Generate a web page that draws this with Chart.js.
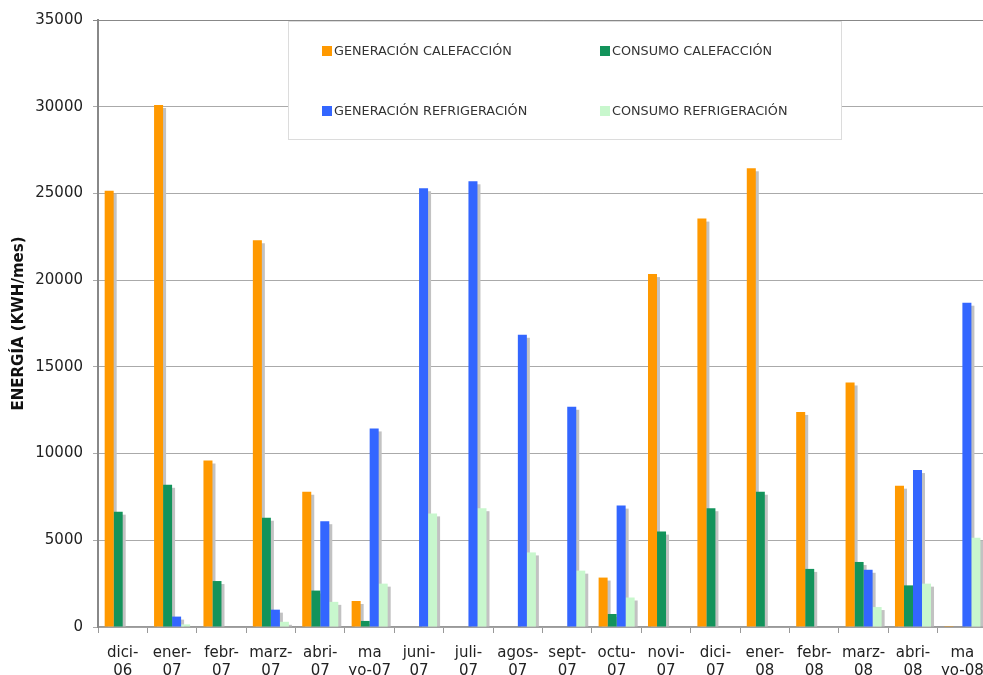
<!DOCTYPE html>
<html>
<head>
<meta charset="utf-8">
<script src="https://cdn.jsdelivr.net/npm/chart.js@4/dist/chart.umd.min.js"></script>
<style>
html,body{margin:0;padding:0;background:#fff;overflow:hidden;width:983px;height:675px;}
canvas{display:block;}
</style>
</head>
<body>
<canvas id="c" width="995" height="675"></canvas>
<script>
const categories = [['dici-','06'],['ener-','07'],['febr-','07'],['marz-','07'],['abri-','07'],['ma','yo-07'],['juni-','07'],['juli-','07'],['agos-','07'],['sept-','07'],['octu-','07'],['novi-','07'],['dici-','07'],['ener-','08'],['febr-','08'],['marz-','08'],['abri-','08'],['ma','yo-08']];
const seriesNames = ['GENERACIÓN CALEFACCIÓN','CONSUMO CALEFACCIÓN','GENERACIÓN REFRIGERACIÓN','CONSUMO REFRIGERACIÓN'];
const generacionCalefaccion = [25150,30100,9600,22300,7800,1500,0,0,0,0,2850,20350,23550,26450,12400,14100,8150,50];
const consumoCalefaccion    = [6650,8200,2650,6300,2100,350,0,0,0,0,750,5500,6850,7800,3350,3750,2400,0];
const generacionRefrigeracion = [0,600,0,1000,6100,11450,25300,25700,16850,12700,7000,0,0,0,0,3300,9050,18700];
const consumoRefrigeracion  = [0,150,0,300,1450,2500,6550,6850,4300,3250,1700,0,0,0,0,1150,2500,5150];
const yTicks = [0,5000,10000,15000,20000,25000,30000,35000];
const yTitle = 'ENERGÍA (KWH/mes)';

const colors = ['#FF9900','#13935B','#3366FF','#C8F7CD'];
const values = [generacionCalefaccion, consumoCalefaccion, generacionRefrigeracion, consumoRefrigeracion];

const shadowPlugin = {
  id: 'barShadows',
  beforeDatasetsDraw(chart) {
    const ctx = chart.ctx, area = chart.chartArea;
    ctx.save();
    ctx.beginPath();
    ctx.rect(area.left, area.top, area.right - area.left, area.bottom - area.top);
    ctx.clip();
    ctx.fillStyle = '#c2c2c2';
    chart.data.datasets.forEach((ds, i) => {
      const meta = chart.getDatasetMeta(i);
      meta.data.forEach(el => {
        const p = el.getProps(['x','y','base','width'], true);
        const top = p.y + 3;
        if (p.base - top > 0) {
          ctx.fillRect(p.x - p.width / 2 + 3, top, p.width, p.base - top);
        }
      });
    });
    ctx.restore();
  }
};

const legendPlugin = {
  id: 'boxLegend',
  afterDraw(chart) {
    const ctx = chart.ctx;
    const bx = 288, by = 21, bw = 554, bh = 119;
    ctx.save();
    ctx.fillStyle = '#ffffff';
    ctx.fillRect(bx, by, bw, bh);
    ctx.strokeStyle = '#dcdcdc';
    ctx.lineWidth = 1;
    ctx.strokeRect(bx + 0.5, by + 0.5, bw - 1, bh - 1);
    ctx.font = '12.8px "DejaVu Sans"';
    ctx.textBaseline = 'middle';
    const cols = [322, 600];
    const rows = [51, 111];
    chart.data.datasets.forEach((ds, i) => {
      const cx = cols[i % 2], cy = rows[Math.floor(i / 2)];
      ctx.fillStyle = ds.backgroundColor;
      ctx.fillRect(cx, cy - 5, 10, 10);
      ctx.fillStyle = '#333';
      ctx.fillText(ds.label, cx + 12, cy + 0.5);
    });
    ctx.restore();
  }
};

new Chart(document.getElementById('c'), {
  type: 'bar',
  data: {
    labels: categories,
    datasets: seriesNames.map((name, i) => ({
      label: name,
      data: values[i],
      backgroundColor: colors[i],
      borderWidth: 0,
      categoryPercentage: 0.73,
      barPercentage: 1.0
    }))
  },
  options: {
    responsive: false,
    animation: false,
    events: [],
    layout: { padding: { left: 0, top: 20, right: 7, bottom: 0 } },
    plugins: { legend: { display: false }, tooltip: { enabled: false } },
    scales: {
      x: {
        afterFit(s) { s.height = 48; },
        grid: { drawOnChartArea: false, drawTicks: true, tickLength: 6, color: '#999', offset: true },
        border: { color: '#999', width: 1.5 },
        ticks: {
          font: { family: 'DejaVu Sans', size: 15 },
          color: '#222',
          maxRotation: 0, minRotation: 0, autoSkip: false, padding: 11
        }
      },
      y: {
        min: 0, max: 35000,
        afterFit(s) { s.width = 98; },
        afterBuildTicks(s) { s.ticks = yTicks.map(v => ({ value: v })); },
        grid: {
          color: (c) => (c.tick && c.tick.value === 35000) ? '#888' : '#aaa',
          tickLength: 5, drawTicks: true
        },
        border: { color: '#888', width: 2 },
        ticks: {
          font: { family: 'DejaVu Sans', size: 15 },
          color: '#222',
          padding: 10,
          callback: (v) => String(v)
        },
        title: {
          display: true, text: yTitle, color: '#111',
          font: { family: 'DejaVu Sans', size: 15, weight: 'bold' },
          padding: { top: 10, bottom: 0 }
        }
      }
    }
  },
  plugins: [shadowPlugin, legendPlugin]
});
</script>
</body>
</html>
